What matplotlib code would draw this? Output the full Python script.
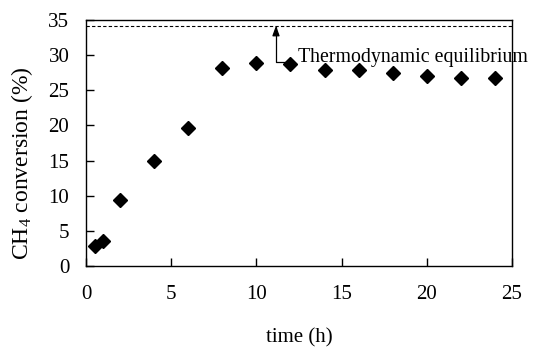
import matplotlib.pyplot as plt

plt.rcParams['font.family'] = 'Liberation Serif'
plt.rcParams['mathtext.fontset'] = 'custom'
plt.rcParams['mathtext.rm'] = 'Liberation Serif'
plt.rcParams['mathtext.it'] = 'Liberation Serif:italic'

time_h = [0.5, 1, 2, 4, 6, 8, 10, 12, 14, 16, 18, 20, 22, 24]
conversion = [2.9, 3.6, 9.4, 14.9, 19.7, 28.2, 28.9, 28.8, 27.9, 27.9, 27.4, 27.1, 26.7, 26.7]
equilibrium = 34.2

fig = plt.figure(figsize=(5.42, 3.47), dpi=100)
ax = fig.add_axes([0.1587, 0.2334, 0.7859, 0.709])

ax.plot(time_h, conversion, linestyle='none', marker='D', ms=7, color='black')
ax.axhline(equilibrium, color='black', linestyle=(0, (3, 2)), linewidth=0.8)

ax.annotate('Thermodynamic equilibrium', xy=(11.15, equilibrium), xytext=(12.45, 29.6),
            fontsize=14.3, ha='left', va='center',
            arrowprops=dict(arrowstyle='-|>,head_length=0.5,head_width=0.18',
                            color='black', lw=0.9, shrinkA=2, shrinkB=0,
                            mutation_scale=12,
                            connectionstyle='angle,angleA=180,angleB=90,rad=0',
                            relpos=(0, 0.3)),
            annotation_clip=False)

ax.set_xlim(0, 25)
ax.set_ylim(0, 35)
ax.set_xticks([0, 5, 10, 15, 20, 25])
ax.set_yticks([0, 5, 10, 15, 20, 25, 30, 35])
ax.tick_params(direction='in', length=6, width=1, labelsize=15, top=False, right=False)
ax.tick_params(axis='y', pad=12)
ax.tick_params(axis='x', pad=14)
for s in ax.spines.values():
    s.set_linewidth(1)

ax.set_xlabel('time (h)', fontsize=15, labelpad=17)
ax.set_ylabel('CH$_4$ conversion (%)', fontsize=17)
ax.yaxis.set_label_coords(-0.12, 0.42)

fig.savefig('out.png', dpi=100)
